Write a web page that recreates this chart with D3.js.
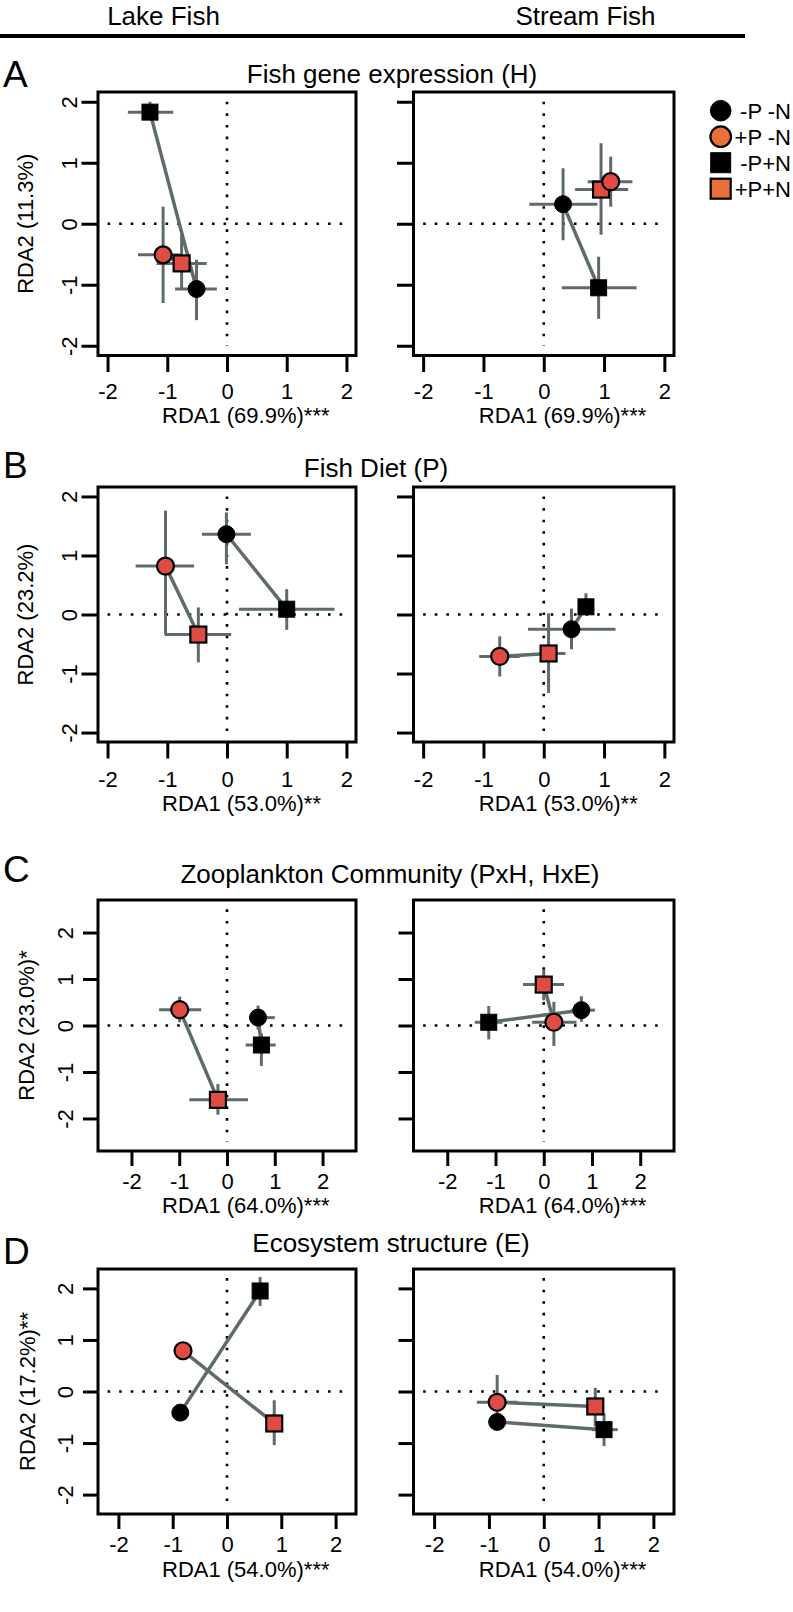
<!DOCTYPE html>
<html><head><meta charset="utf-8">
<script src="https://cdn.jsdelivr.net/npm/d3@7"></script>
<style>
body{margin:0;background:#fff}
svg{display:block}
text{font-family:"Liberation Sans",Arial,Helvetica,sans-serif;fill:#000}
</style>
</head><body>
<svg id="chart" width="793" height="1612"></svg>
<script>
// ---------------- DATA ----------------
const groups = ["-P -N", "+P -N", "-P+N", "+P+N"];
const groupShapes = ["circle", "circle", "square", "square"];
const groupIsRed = [false, true, false, true];
const columnTitles = ["Lake Fish", "Stream Fish"];
const panelLetters = ["A", "B", "C", "D"];
const panelTitles = ["Fish gene expression (H)", "Fish Diet (P)", "Zooplankton Community (PxH, HxE)", "Ecosystem structure (E)"];
const xAxisLabels = ["RDA1 (69.9%)***", "RDA1 (53.0%)**", "RDA1 (64.0%)***", "RDA1 (54.0%)***"];
const yAxisLabels = ["RDA2 (11.3%)", "RDA2 (23.2%)", "RDA2 (23.0%)*", "RDA2 (17.2%)**"];
const axisLimits = [2, 2, 2.5, 2.2];
const tickValues = [-2, -1, 0, 1, 2];
const connectPairs = [[0, 2], [1, 3]];

// each row: [x, y, xLow, xHigh, yLow, yHigh], in the order of `groups`
const lakeA = [
  [-0.51, -1.07, -0.87, -0.17, -1.58, -0.59],
  [-1.07, -0.51, -1.49, -0.79, -1.30, 0.28],
  [-1.29, 1.83, -1.66, -0.90, 1.70, 2.00],
  [-0.76, -0.65, -1.18, -0.34, -1.06, -0.18]
];
const streamA = [
  [0.32, 0.32, -0.24, 0.89, -0.27, 0.91],
  [1.11, 0.69, 0.73, 1.47, 0.28, 1.10],
  [0.91, -1.05, 0.30, 1.54, -1.56, -0.54],
  [0.95, 0.56, 0.52, 1.40, -0.18, 1.32]
];
const lakeB = [
  [-0.01, 1.36, -0.42, 0.40, 0.85, 1.73],
  [-1.03, 0.82, -1.53, -0.55, -0.34, 1.76],
  [1.00, 0.09, 0.20, 1.80, -0.26, 0.43],
  [-0.48, -0.34, -1.04, 0.07, -0.81, 0.12]
];
const streamB = [
  [0.46, -0.25, -0.26, 1.19, -0.59, 0.10],
  [-0.73, -0.71, -1.07, -0.40, -1.05, -0.37],
  [0.70, 0.13, 0.60, 0.80, 0.02, 0.36],
  [0.08, -0.66, -0.04, 0.36, -1.33, 0.02]
];
const lakeC = [
  [0.65, 0.17, 0.46, 1.00, -0.09, 0.43],
  [-0.99, 0.34, -1.42, -0.54, 0.07, 0.62],
  [0.72, -0.42, 0.39, 1.02, -0.87, -0.17],
  [-0.19, -1.60, -0.79, 0.44, -1.92, -1.26]
];
const streamC = [
  [0.78, 0.33, 0.57, 1.06, 0.08, 0.63],
  [0.21, 0.07, -0.24, 0.68, -0.44, 0.51],
  [-1.14, 0.07, -1.43, -0.86, -0.30, 0.42],
  [0.00, 0.88, -0.43, 0.42, 0.54, 1.21]
];
const lakeD = [
  [-0.86, -0.41, -0.86, -0.86, -0.41, -0.41],
  [-0.81, 0.79, -0.81, -0.81, 0.79, 0.79],
  [0.61, 1.95, 0.50, 0.72, 1.66, 2.22],
  [0.87, -0.62, 0.87, 0.87, -1.04, -0.17]
];
const streamD = [
  [-0.85, -0.59, -0.85, -0.85, -0.59, -0.59],
  [-0.85, -0.21, -1.22, -0.48, -0.74, 0.32],
  [1.10, -0.74, 0.88, 1.35, -1.06, -0.42],
  [0.94, -0.29, 0.94, 0.94, -0.68, 0.07]
];
const panelData = [[lakeA, streamA], [lakeB, streamB], [lakeC, streamC], [lakeD, streamD]];

// ---------------- LAYOUT / STYLE ----------------
const rowBoxes = [[92, 355.5], [487, 742], [900, 1151], [1269, 1514]];
const colBoxes = [[98, 356], [413.5, 674]];
const letterBaselines = [87, 478, 882, 1264];
const titleBaselines = [83, 477, 883, 1252];
const titleCenters = [392, 376, 390, 391];
const xTickBase = [43, 44.5, 37.5, 38];      // tick label baseline below box
const xLabelBase = [67.6, 69, 62.2, 62.6];   // axis title baseline below box
const tickLen = [16.5, 16.5, 15, 15];
const yTickOff = [21, 21, 25, 25];
const yLabelOff = [65, 65, 64, 63.5];
const errColor = "#5f6b6b";
const redFill = "#e04b43";
const legendRed = "#e8703a";
const FONT_AX = 22;
const fmt = d => String(d);   // plain hyphen-minus like the original

const svg = d3.select("#chart");

// header
svg.append("text").attr("x", 163.5).attr("y", 25).attr("text-anchor", "middle")
  .style("font-size", "26px").text(columnTitles[0]);
svg.append("text").attr("x", 585.5).attr("y", 25).attr("text-anchor", "middle")
  .style("font-size", "26px").text(columnTitles[1]);
svg.append("line").attr("x1", 0).attr("x2", 745).attr("y1", 36).attr("y2", 36)
  .attr("stroke", "#000").attr("stroke-width", 4);

function drawMarker(g, shape, cx, cy, red, size) {
  const fill = red ? redFill : "#000";
  if (shape === "circle") {
    g.append("circle").attr("cx", cx).attr("cy", cy).attr("r", size)
      .attr("fill", fill).attr("stroke", "#000").attr("stroke-width", red ? 2.2 : 1);
  } else {
    const s = size * 0.94;
    g.append("rect").attr("x", cx - s).attr("y", cy - s).attr("width", 2 * s).attr("height", 2 * s)
      .attr("fill", fill).attr("stroke", "#000").attr("stroke-width", red ? 2.2 : 1);
  }
}

panelData.forEach((rowData, r) => {
  const [top, bottom] = rowBoxes[r];
  const lim = axisLimits[r];
  const dom = [-lim * 1.08, lim * 1.08];

  // letter and title
  svg.append("text").attr("x", 3).attr("y", letterBaselines[r])
    .style("font-size", "37px").text(panelLetters[r]);
  svg.append("text").attr("x", titleCenters[r]).attr("y", titleBaselines[r]).attr("text-anchor", "middle")
    .style("font-size", "26px").text(panelTitles[r]);

  rowData.forEach((data, c) => {
    const [left, right] = colBoxes[c];
    const x = d3.scaleLinear().domain(dom).range([left, right]);
    const y = d3.scaleLinear().domain(dom).range([bottom, top]);
    const g = svg.append("g");

    // x axis
    const xAxis = d3.axisBottom(x).tickValues(tickValues).tickSize(tickLen[r]).tickFormat(fmt);
    const gx = g.append("g").attr("transform", `translate(0,${bottom})`).call(xAxis);
    gx.select(".domain").remove();
    gx.selectAll(".tick line").attr("stroke", "#000").attr("stroke-width", 3);
    gx.selectAll(".tick text").attr("y", xTickBase[r]).attr("dy", null)
      .style("font-size", FONT_AX + "px").attr("fill", "#000")
      .style("font-family", "Liberation Sans, Arial, sans-serif");

    // y axis
    const yAxis = d3.axisLeft(y).tickValues(tickValues).tickSize(tickLen[r])
      .tickFormat(c === 0 ? fmt : () => "");
    const gy = g.append("g").attr("transform", `translate(${left},0)`).call(yAxis);
    gy.select(".domain").remove();
    gy.selectAll(".tick line").attr("stroke", "#000").attr("stroke-width", 3);
    gy.selectAll(".tick text").attr("x", null).attr("dy", null)
      .attr("text-anchor", "middle")
      .attr("transform", `translate(${-yTickOff[r]},0) rotate(-90)`)
      .style("font-size", FONT_AX + "px").attr("fill", "#000")
      .style("font-family", "Liberation Sans, Arial, sans-serif");

    // x axis label
    const cx = (left + right) / 2;
    g.append("text").attr("x", cx - 65).attr("y", bottom + xLabelBase[r])
      .style("font-size", FONT_AX + "px").text(xAxisLabels[r]);

    // y axis label (left column only)
    if (c === 0) {
      const cy = (top + bottom) / 2;
      g.append("text").attr("transform", `translate(${left - yLabelOff[r]},${cy}) rotate(-90)`)
        .attr("text-anchor", "middle").style("font-size", FONT_AX + "px").text(yAxisLabels[r]);
    }

    // dotted reference lines
    g.append("line").attr("x1", x(0)).attr("x2", x(0)).attr("y1", y(lim)).attr("y2", y(-lim))
      .attr("stroke", "#000").attr("stroke-width", 2.6).attr("stroke-dasharray", "2.6 9");
    g.append("line").attr("x1", x(-lim)).attr("x2", x(lim)).attr("y1", y(0)).attr("y2", y(0))
      .attr("stroke", "#000").attr("stroke-width", 2.6).attr("stroke-dasharray", "2.6 9");

    // error bars
    data.forEach(d => {
      g.append("line").attr("x1", x(d[2])).attr("x2", x(d[3])).attr("y1", y(d[1])).attr("y2", y(d[1]))
        .attr("stroke", errColor).attr("stroke-width", 3);
      g.append("line").attr("x1", x(d[0])).attr("x2", x(d[0])).attr("y1", y(d[4])).attr("y2", y(d[5]))
        .attr("stroke", errColor).attr("stroke-width", 3);
    });
    // connecting lines
    connectPairs.forEach(([a, b]) => {
      g.append("line").attr("x1", x(data[a][0])).attr("y1", y(data[a][1]))
        .attr("x2", x(data[b][0])).attr("y2", y(data[b][1]))
        .attr("stroke", errColor).attr("stroke-width", 3.5);
    });
    // points
    [0, 2, 3, 1].forEach(i => {
      drawMarker(g, groupShapes[i], x(data[i][0]), y(data[i][1]), groupIsRed[i], 8.5);
    });

    // box
    g.append("rect").attr("x", left).attr("y", top).attr("width", right - left).attr("height", bottom - top)
      .attr("fill", "none").attr("stroke", "#000").attr("stroke-width", 3);
  });
});

// legend
const legendY = [110.7, 136.7, 162.7, 188.7];
groups.forEach((name, i) => {
  const lg = svg.append("g");
  const fill = groupIsRed[i] ? legendRed : "#000";
  if (groupShapes[i] === "circle") {
    lg.append("circle").attr("cx", 720.7).attr("cy", legendY[i]).attr("r", 10.3)
      .attr("fill", fill).attr("stroke", "#000").attr("stroke-width", groupIsRed[i] ? 2.2 : 1);
  } else {
    lg.append("rect").attr("x", 720.7 - 10).attr("y", legendY[i] - 10).attr("width", 20).attr("height", 20)
      .attr("fill", fill).attr("stroke", "#000").attr("stroke-width", groupIsRed[i] ? 2.2 : 1);
  }
  lg.append("text").attr("x", 791).attr("y", legendY[i] + 8).attr("text-anchor", "end")
    .style("font-size", "22px").text(name);
});
</script>
</body></html>
